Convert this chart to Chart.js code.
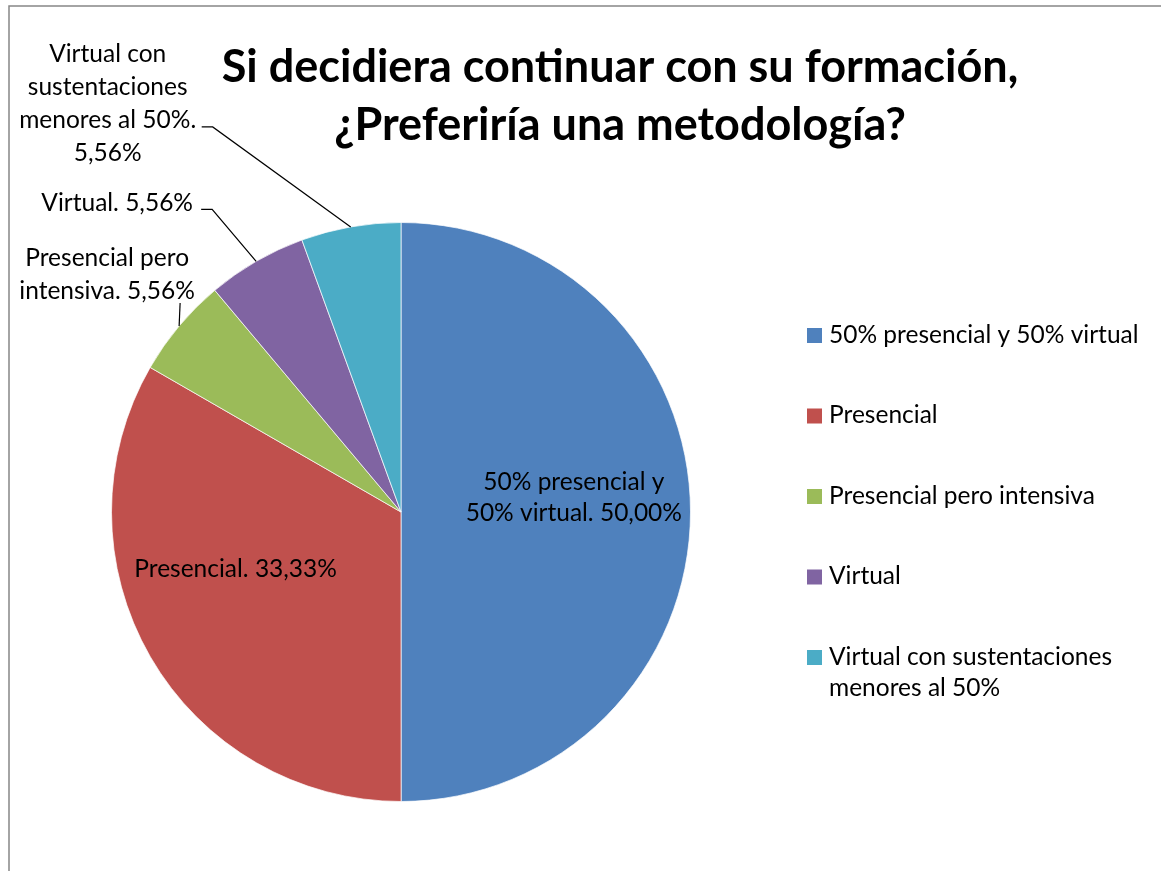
<!DOCTYPE html>
<html>
<head>
  <title>Metodología preferida</title>
  <script src="https://cdn.jsdelivr.net/npm/chart.js"></script>
  <style>
    body {
      margin: 0;
      background: #fff;
    }

    canvas {
      display: block;
    }
  </style>
</head>
<body>
  <canvas id="pieChart" width="1161" height="871"></canvas>

  <script>
    // Chart data (percentages)
    const categories = [
      '50% presencial y 50% virtual',
      'Presencial',
      'Presencial pero intensiva',
      'Virtual',
      'Virtual con sustentaciones menores al 50%'
    ];
    const values = [50.00, 33.33, 5.56, 5.56, 5.56];
    const colors = ['#4F81BD', '#C0504D', '#9BBB59', '#8064A2', '#4BACC6'];
    const titleLines = ['Si decidiera continuar con su formación,', '¿Preferiría una metodología?'];

    const FONT = 'Lato, "Open Sans", sans-serif';

    // where each data label goes: inside the slice or outside with a leader line
    const labelLayout = [
      { inside: true, r: 0.597, dy: -14, maxChars: 19, lineH: 31 },
      { inside: true, r: 0.66, dy: -39, maxChars: 40, lineH: 31 },
      { inside: false, path: [[1, -23]], tx: -72, ty: -68, maxChars: 16, lineH: 33 },
      { inside: false, path: [[-44, -52], [-55, -52]], tx: -139, ty: -58, maxChars: 40, lineH: 33 },
      { inside: false, path: [[-138, -100], [-149, -100]], tx: -243, ty: -173, maxChars: 15, lineH: 33 }
    ];

    function pct(v) {
      return v.toFixed(2).replace('.', ',') + '%';
    }

    function wrap(text, maxChars) {
      const words = text.split(' ');
      const lines = [];
      let cur = '';
      words.forEach(w => {
        const test = cur ? cur + ' ' + w : w;
        if (test.length > maxChars && cur) {
          lines.push(cur);
          cur = w;
        } else {
          cur = test;
        }
      });
      if (cur) lines.push(cur);
      return lines;
    }

    const excelLook = {
      id: 'excelLook',
      beforeDraw(chart) {
        const ctx = chart.ctx;
        // chart frame (only top and left edges are in view)
        ctx.save();
        ctx.strokeStyle = '#878787';
        ctx.lineWidth = 1.5;
        ctx.beginPath();
        ctx.moveTo(9, chart.height);
        ctx.lineTo(9, 6);
        ctx.lineTo(chart.width, 6);
        ctx.stroke();
        ctx.restore();
      },
      afterDatasetsDraw(chart) {
        const ctx = chart.ctx;
        const arcs = chart.getDatasetMeta(0).data;
        ctx.save();
        ctx.font = '24.5px ' + FONT;
        ctx.fillStyle = '#000';
        ctx.textAlign = 'center';
        ctx.textBaseline = 'middle';
        arcs.forEach((arc, i) => {
          const p = arc.getProps(['x', 'y', 'startAngle', 'endAngle', 'outerRadius'], true);
          const mid = (p.startAngle + p.endAngle) / 2;
          const lay = labelLayout[i];
          const lines = wrap(categories[i] + '. ' + pct(values[i]), lay.maxChars);
          let cx, top;
          if (lay.inside) {
            cx = p.x + Math.cos(mid) * p.outerRadius * lay.r;
            const cy = p.y + Math.sin(mid) * p.outerRadius * lay.r + lay.dy;
            top = cy - (lines.length - 1) * lay.lineH / 2;
          } else {
            const ax = p.x + Math.cos(mid) * p.outerRadius;
            const ay = p.y + Math.sin(mid) * p.outerRadius;
            ctx.strokeStyle = '#000';
            ctx.lineWidth = 1.2;
            ctx.beginPath();
            ctx.moveTo(ax, ay);
            lay.path.forEach(pt => ctx.lineTo(ax + pt[0], ay + pt[1]));
            ctx.stroke();
            cx = ax + lay.tx;
            top = ay + lay.ty;
          }
          lines.forEach((ln, k) => ctx.fillText(ln, cx, top + k * lay.lineH));
        });
        ctx.restore();
      },
      afterDraw(chart) {
        const ctx = chart.ctx;
        ctx.save();
        // title
        ctx.fillStyle = '#000';
        ctx.textAlign = 'center';
        ctx.textBaseline = 'middle';
        ctx.font = 'bold 45px ' + FONT;
        titleLines.forEach((t, k) => ctx.fillText(t, 620, 67 + k * 58));

        // legend on the right
        ctx.textAlign = 'left';
        ctx.font = '24.5px ' + FONT;
        categories.forEach((name, i) => {
          const y = 335 + i * 80.5;
          ctx.fillStyle = colors[i];
          ctx.fillRect(807, y - 7, 15, 15);
          ctx.fillStyle = '#000';
          wrap(name, 29).forEach((ln, k) => ctx.fillText(ln, 829, y + k * 31));
        });
        ctx.restore();
      }
    };

    new Chart(document.getElementById('pieChart').getContext('2d'), {
      type: 'pie',
      data: {
        labels: categories,
        datasets: [{
          data: values,
          backgroundColor: colors,
          borderColor: 'rgba(255,255,255,0.7)',
          borderWidth: 1
        }]
      },
      options: {
        responsive: false,
        animation: false,
        layout: {
          padding: { left: 111, right: 470, top: 222, bottom: 69 }
        },
        plugins: {
          legend: { display: false },
          tooltip: { enabled: false }
        }
      },
      plugins: [excelLook]
    });
  </script>
</body>
</html>
